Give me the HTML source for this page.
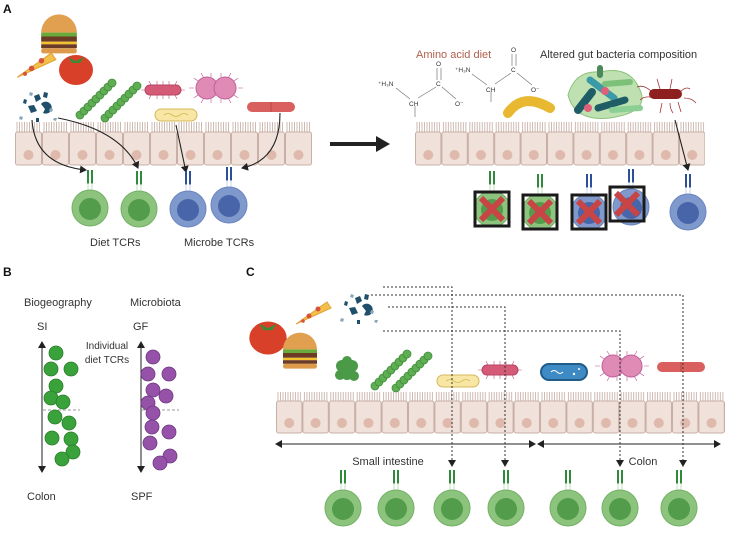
<!DOCTYPE html>
<html><head><meta charset="utf-8"><style>
html,body{margin:0;padding:0;background:#fff}
svg{display:block}
text{font-family:"Liberation Sans",sans-serif;fill:#333}
</style></head><body>
<svg width="734" height="534" viewBox="0 0 734 534" xmlns="http://www.w3.org/2000/svg">
<defs>
<pattern id="epiA" x="15" y="122" width="27" height="44" patternUnits="userSpaceOnUse">
 <path d="M2 0v11M4.5 0v11M7 0v11M9.5 0v11M12 0v11M14.5 0v11M17 0v11M19.5 0v11M22 0v11M24.5 0v11" stroke="#c9b2a9" stroke-width="0.9"/>
 <rect x="0.5" y="10" width="26" height="33" rx="2" fill="#f0e1da" stroke="#c9b0a6"/>
 <circle cx="13.5" cy="33" r="5" fill="#dfb9ab"/>
</pattern>
<pattern id="epiB" x="415" y="122" width="26.4" height="44" patternUnits="userSpaceOnUse">
 <path d="M2 0v11M4.5 0v11M7 0v11M9.5 0v11M12 0v11M14.5 0v11M17 0v11M19.5 0v11M22 0v11M24.5 0v11" stroke="#c9b2a9" stroke-width="0.9"/>
 <rect x="0.5" y="10" width="25.4" height="33" rx="2" fill="#f0e1da" stroke="#c9b0a6"/>
 <circle cx="13.2" cy="33" r="5" fill="#dfb9ab"/>
</pattern>
<pattern id="epiC" x="276" y="392" width="26.4" height="42" patternUnits="userSpaceOnUse">
 <path d="M2 0v10M4.5 0v10M7 0v10M9.5 0v10M12 0v10M14.5 0v10M17 0v10M19.5 0v10M22 0v10M24.5 0v10" stroke="#c9b2a9" stroke-width="0.9"/>
 <rect x="0.5" y="9" width="25.4" height="32" rx="2" fill="#f0e1da" stroke="#c9b0a6"/>
 <circle cx="13.2" cy="31" r="5" fill="#dfb9ab"/>
</pattern>
<g id="tg">
 <rect x="-3" y="-38" width="2" height="14" fill="#2e8b3a"/><rect x="1" y="-38" width="2" height="14" fill="#2e8b3a"/>
 <rect x="-2.6" y="-25" width="1.2" height="9" fill="#cfe3c9"/><rect x="1.4" y="-25" width="1.2" height="9" fill="#cfe3c9"/>
 <circle r="18" fill="#8cc47e" stroke="#74b066"/>
 <circle cy="1" r="11" fill="#529c4b"/>
</g>
<g id="tb">
 <rect x="-3" y="-38" width="2" height="14" fill="#2b4f9a"/><rect x="1" y="-38" width="2" height="14" fill="#2b4f9a"/>
 <rect x="-2.6" y="-25" width="1.2" height="9" fill="#d4ddef"/><rect x="1.4" y="-25" width="1.2" height="9" fill="#d4ddef"/>
 <circle r="18" fill="#7f99cc" stroke="#6a86bf"/>
 <circle cy="1" r="11" fill="#4765a8"/>
</g>
<marker id="ah" markerWidth="8" markerHeight="8" refX="6" refY="4" orient="auto" markerUnits="userSpaceOnUse"><path d="M0 0L7 4L0 8z" fill="#222"/></marker>
<marker id="ahs" markerWidth="8" markerHeight="8" refX="0" refY="4" orient="auto-start-reverse" markerUnits="userSpaceOnUse"><path d="M0 0L7 4L0 8z" fill="#222"/></marker>
<g id="burger">
 <path d="M-17 2a17 14 0 0 1 34 0z" fill="#e0a050"/>
 <rect x="-17" y="2" width="34" height="3" fill="#6aaa3a"/>
 <rect x="-17" y="5" width="34" height="4" fill="#6b3b25"/>
 <rect x="-17" y="9" width="34" height="2" fill="#f2c12e"/>
 <rect x="-17" y="11" width="34" height="3" fill="#6b3b25"/>
 <rect x="-17" y="14" width="34" height="4" rx="2" fill="#dc9a4a"/>
</g>
<g id="tomato"><ellipse rx="17" ry="15" fill="#d8402a"/><path d="M-8-13l8 4 8-4-4 6h-8z" fill="#3d8a35"/></g>
<g id="pizza"><path d="M-17 12L14-10l4 6z" fill="#f2c14c" stroke="#e3a33a"/><circle cx="-4" cy="4" r="2.5" fill="#d8523a"/><circle cx="5" cy="-3" r="2.5" fill="#d8523a"/><circle cx="-10" cy="9" r="1.8" fill="#d8523a"/></g>
<g id="frag" fill="#1f4f6a">
 <path d="M0 0l5-2 2 5-5 3z"/><path d="M10 -4l4 1-1 5-4-1z"/><path d="M-6 10l6-1 3 6-6 2z"/><path d="M7 8a6 6 0 1 1 2 9l2-4z"/><path d="M-10 3l3 1-1 4-3-1z"/><path d="M2 22l3 0 0 4-3 0z"/>
 <path d="M16 12l3 1-1 3-3-1z" fill="#8aa8bb"/><path d="M-14 20l3 1-1 3-3-1z" fill="#8aa8bb"/><path d="M20 22l3 0-1 3-3-1z" fill="#8aa8bb"/><path d="M-4 -4l3 1-1 3-3-1z" fill="#8aa8bb"/>
</g>
<g id="chain" fill="#5fae54" stroke="#3f8e3a" stroke-width="0.8">
 <circle cx="0" cy="0" r="4"/><circle cx="4" cy="-4" r="4"/><circle cx="8" cy="-8" r="4"/><circle cx="12" cy="-12" r="4"/><circle cx="16" cy="-16" r="4"/><circle cx="20" cy="-20" r="4"/><circle cx="24" cy="-24" r="4"/><circle cx="28" cy="-28" r="4"/><circle cx="32" cy="-32" r="4"/>
</g>
<g id="pinkrod"><g stroke="#c0507a" stroke-width="0.6"><path d="M-18 0h-4M18 0h4M-12-5l-2-4M0-5v-4M12-5l2-4M-12 5l-2 4M0 5v4M12 5l2 4M-6-5v-4M6-5v-4M-6 5v4M6 5v4"/></g><rect x="-18" y="-5" width="36" height="10" rx="5" fill="#d45a78" stroke="#b84463"/></g>
<g id="yellow"><rect x="-21" y="-6" width="42" height="12" rx="6" fill="#f7e6a4" stroke="#d4b85a"/><path d="M-12 0q4-3 8 0t8 0t8 0" stroke="#d4b85a" fill="none" stroke-width="0.8"/></g>
<g id="diplo"><g stroke="#c05090" stroke-width="0.6"><path d="M-22 0h-5M22 0h5M-12-10l-3-5M12-10l3-5M-12 10l-3 5M12 10l3 5M-18-7l-4-3M18-7l4-3M-18 7l-4 3M18 7l4 3M-5-11v-4M5-11v-4M-5 11v4M5 11v4"/></g><circle cx="-9" cy="0" r="11" fill="#e08ab6" stroke="#c0609a"/><circle cx="9" cy="0" r="11" fill="#e08ab6" stroke="#c0609a"/></g>
<g id="redrod"><rect x="-24" y="-5" width="48" height="10" rx="5" fill="#d9605e"/><line x1="0" y1="-5" x2="0" y2="5" stroke="#b94846"/></g>
<g id="xbox"><rect x="-17" y="-17" width="34" height="34" fill="none" stroke="#1a1a1a" stroke-width="3"/><path d="M-11-11L11 11M11-11L-11 11" stroke="#c94444" stroke-width="6"/></g>
</defs>

<!-- PANEL A -->
<text x="3" y="13" font-weight="bold" font-size="12" style="fill:#111">A</text>
<use href="#burger" transform="translate(59,30) scale(1.05,1.3)"/>
<use href="#pizza" transform="translate(36,64) scale(1.1)"/>
<use href="#tomato" x="76" y="70"/>
<use href="#frag" x="34" y="96"/>
<use href="#chain" x="80" y="115"/>
<use href="#chain" x="105" y="118"/>
<use href="#pinkrod" x="163" y="90"/>
<use href="#yellow" x="176" y="115"/>
<use href="#diplo" x="216" y="88"/>
<use href="#redrod" x="271" y="107"/>
<rect x="15" y="122" width="297" height="44" fill="url(#epiA)"/>
<g fill="none" stroke="#222" stroke-width="1.1">
 <path d="M32 120Q35 165 86 170" marker-end="url(#ah)"/>
 <path d="M58 118Q120 130 138 168" marker-end="url(#ah)"/>
 <path d="M176 125L186 172" marker-end="url(#ah)"/>
 <path d="M280 113Q280 160 242 168" marker-end="url(#ah)"/>
</g>
<use href="#tg" x="90" y="208"/>
<use href="#tg" x="139" y="209"/>
<use href="#tb" x="188" y="209"/>
<use href="#tb" x="229" y="205"/>
<text x="90" y="246" font-size="11">Diet TCRs</text>
<text x="184" y="246" font-size="11">Microbe TCRs</text>

<path d="M330 144H378" stroke="#222" stroke-width="4"/><path d="M376 136L390 144L376 152z" fill="#222"/>

<text x="416" y="58" font-size="11" style="fill:#b0604d">Amino acid diet</text>
<text x="540" y="58" font-size="11">Altered gut bacteria composition</text>
<g stroke="#777" stroke-width="0.7" fill="none">
 <path d="M396 88L410 99M418 98L436 87M442 87L456 99M415 106v11M437 80v-12M441 80v-12"/>
 <path d="M472 74L487 85M495 84L511 73M517 73L532 85M491 92v10M512 66v-12M516 66v-12"/>
</g>
<g font-size="6.5"><text x="378" y="86">⁺H₃N</text><text x="409" y="106">CH</text><text x="436" y="86">C</text><text x="436" y="66">O</text><text x="455" y="106">O⁻</text>
<text x="455" y="72">⁺H₃N</text><text x="486" y="92">CH</text><text x="511" y="72">C</text><text x="511" y="52">O</text><text x="531" y="92">O⁻</text></g>
<path d="M508 113Q523 92 550 108" stroke="#e8b830" stroke-width="10" fill="none" stroke-linecap="round"/>
<path d="M568 95Q575 70 600 72Q630 65 640 90Q650 112 610 118Q575 122 568 95z" fill="#bfe0b0" stroke="#8cc27a"/>
<g stroke-linecap="round" fill="none">
 <path d="M578 110L592 92" stroke="#1e5c66" stroke-width="8"/><path d="M590 80L614 98" stroke="#3a9aa8" stroke-width="7"/>
 <path d="M598 108L625 100" stroke="#1e5c66" stroke-width="7"/><path d="M605 84L630 82" stroke="#7cc07a" stroke-width="6"/>
 <path d="M612 110L640 108" stroke="#8bcf94" stroke-width="6"/><path d="M600 75V68" stroke="#4a8a5a" stroke-width="6"/>
</g>
<circle cx="605" cy="91" r="4" fill="#e0607a"/><circle cx="588" cy="108" r="4" fill="#e0607a"/>
<g stroke="#a03838" stroke-width="0.8" fill="none"><path d="M655 98q-10-3-15 2M652 92q-8-8-15-5M660 89l-3-10M670 89l2-10M680 92q6-6 10-3M684 98q8 0 12 5M678 102l3 10M662 103l-2 10M670 103q0 6 3 10"/></g>
<rect x="649" y="89" width="33" height="10" rx="5" fill="#8e1f1f"/>
<rect x="415" y="122" width="290" height="44" fill="url(#epiB)"/>
<path d="M675 120L688 170" stroke="#222" stroke-width="1.1" marker-end="url(#ah)"/>
<use href="#tg" x="492" y="209"/>
<use href="#xbox" x="492" y="209"/>
<use href="#tg" x="540" y="212"/>
<use href="#xbox" x="540" y="212"/>
<use href="#tb" x="589" y="212"/>
<use href="#xbox" x="589" y="212"/>
<use href="#tb" x="631" y="207"/>
<use href="#xbox" x="627" y="204"/>
<use href="#tb" x="688" y="212"/>

<!-- PANEL B -->
<text x="3" y="276" font-weight="bold" font-size="12" style="fill:#111">B</text>
<text x="24" y="306" font-size="11">Biogeography</text>
<text x="130" y="306" font-size="11">Microbiota</text>
<text x="37" y="330" font-size="11">SI</text>
<text x="133" y="330" font-size="11">GF</text>
<text x="107" y="349" font-size="10" text-anchor="middle">Individual</text>
<text x="107" y="363" font-size="10" text-anchor="middle">diet TCRs</text>
<text x="27" y="500" font-size="11">Colon</text>
<text x="131" y="500" font-size="11">SPF</text>
<g stroke="#333" stroke-width="1.1"><line x1="42" y1="348" x2="42" y2="472" marker-end="url(#ah)" marker-start="url(#ahs)"/><line x1="141" y1="348" x2="141" y2="472" marker-end="url(#ah)" marker-start="url(#ahs)"/></g>
<g stroke="#999" stroke-dasharray="3 2"><line x1="43" y1="410" x2="80" y2="410"/><line x1="142" y1="410" x2="179" y2="410"/></g>
<g fill="#3aa23a" stroke="#2a7f2a" stroke-width="0.8">
<circle cx="56" cy="353" r="7"/><circle cx="51" cy="369" r="7"/><circle cx="71" cy="369" r="7"/><circle cx="56" cy="386" r="7"/><circle cx="51" cy="398" r="7"/><circle cx="63" cy="402" r="7"/><circle cx="55" cy="417" r="7"/><circle cx="69" cy="423" r="7"/><circle cx="52" cy="438" r="7"/><circle cx="71" cy="439" r="7"/><circle cx="73" cy="452" r="7"/><circle cx="62" cy="459" r="7"/></g>
<g fill="#9552a8" stroke="#6f3a80" stroke-width="0.8">
<circle cx="153" cy="357" r="7"/><circle cx="148" cy="374" r="7"/><circle cx="169" cy="374" r="7"/><circle cx="153" cy="390" r="7"/><circle cx="166" cy="396" r="7"/><circle cx="148" cy="403" r="7"/><circle cx="153" cy="413" r="7"/><circle cx="152" cy="427" r="7"/><circle cx="169" cy="432" r="7"/><circle cx="150" cy="443" r="7"/><circle cx="170" cy="456" r="7"/><circle cx="160" cy="463" r="7"/></g>

<!-- PANEL C -->
<text x="246" y="276" font-weight="bold" font-size="12" style="fill:#111">C</text>
<use href="#tomato" transform="translate(268,338) scale(1.1)"/>
<use href="#burger" transform="translate(300,347) scale(1,1.2)"/>
<use href="#pizza" x="313" y="312"/>
<use href="#frag" x="355" y="298"/>
<g fill="#4a9a48"><circle cx="342" cy="366" r="6"/><circle cx="352" cy="366" r="6"/><circle cx="347" cy="374" r="6"/><circle cx="340" cy="375" r="5"/><circle cx="354" cy="376" r="5"/><circle cx="347" cy="361" r="5"/></g>
<use href="#chain" x="375" y="386"/>
<use href="#chain" x="396" y="388"/>
<use href="#yellow" x="458" y="381"/>
<use href="#pinkrod" x="500" y="370"/>
<rect x="541" y="364" width="46" height="16" rx="8" fill="#3e8ac4" stroke="#225a88" stroke-width="2"/><path d="M551 372q3-3 6 0t6 0" stroke="#fff" fill="none"/><circle cx="574" cy="374" r="1.2" fill="#fff"/><circle cx="579" cy="369" r="1" fill="#fff"/>
<use href="#diplo" x="622" y="366"/>
<use href="#redrod" x="681" y="367"/>
<rect x="276" y="392" width="449" height="42" fill="url(#epiC)"/>
<g stroke="#222" stroke-width="1.1"><line x1="282" y1="444" x2="535" y2="444" marker-end="url(#ah)" marker-start="url(#ahs)"/><line x1="544" y1="444" x2="720" y2="444" marker-end="url(#ah)" marker-start="url(#ahs)"/></g>
<text x="388" y="465" font-size="11" text-anchor="middle">Small intestine</text>
<text x="643" y="465" font-size="11" text-anchor="middle">Colon</text>
<g fill="none" stroke="#333" stroke-width="1" stroke-dasharray="2 2">
 <path d="M383 287H452V466" marker-end="url(#ah)"/>
 <path d="M371 295H683V466" marker-end="url(#ah)"/>
 <path d="M388 307H505V466" marker-end="url(#ah)"/>
 <path d="M383 331H620V466" marker-end="url(#ah)"/>
</g>
<use href="#tg" x="343" y="508"/>
<use href="#tg" x="396" y="508"/>
<use href="#tg" x="452" y="508"/>
<use href="#tg" x="506" y="508"/>
<use href="#tg" x="568" y="508"/>
<use href="#tg" x="620" y="508"/>
<use href="#tg" x="679" y="508"/>
</svg>
</body></html>
